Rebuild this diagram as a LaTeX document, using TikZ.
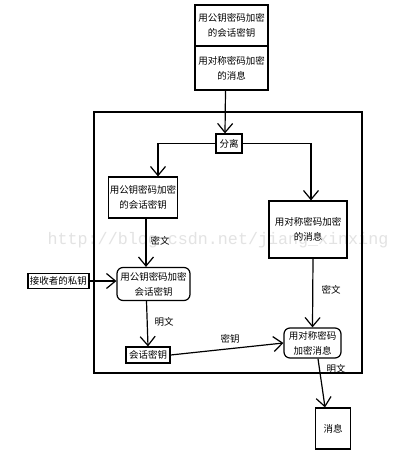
\documentclass[tikz,border=0pt]{standalone}
\usepackage{fontspec}
\newfontfamily\cjk{Noto Sans CJK SC}
\newfontfamily\wmfont{Liberation Mono}
\usetikzlibrary{arrows.meta}
\begin{document}
\begin{tikzpicture}[x=1pt,y=-1pt,
  box/.style={draw, line width=1.2pt, inner sep=0pt, align=center, font=\cjk\fontsize{9.5}{15}\selectfont},
  rbox/.style={box, rounded corners=6pt},
  conn/.style={line width=1.2pt, -{Straight Barb[length=9pt,width=15pt,line width=1.2pt]}},
  plain/.style={line width=1.2pt},
  lbl/.style={font=\cjk\fontsize{9.5}{12}\selectfont, inner sep=0pt}]
\useasboundingbox[fill=white] (0,0) rectangle (417,456);
% watermark
\node[font=\wmfont\fontsize{16.7}{18}\selectfont, text=gray!22, inner sep=0pt] (wm) at (218,240) {http://blog.csdn.net/jiang\_xinxing};
% outer frame
\draw[plain] (94,112) rectangle (362,373);
% top box
\node[box, minimum width=73pt, minimum height=41pt] (top1) at (231.5,25.5) {用公钥密码加密\\的会话密钥};
\node[box, minimum width=73pt, minimum height=44pt] (top2) at (231.5,68) {用对称密码加密\\的消息};
% separate
\node[box, minimum width=26pt, minimum height=19pt] (sep) at (229,143.5) {分离};
% left branch
\node[box, minimum width=69pt, minimum height=41pt] (k1) at (143,197.5) {用公钥密码加密\\的会话密钥};
\node[box, minimum width=78pt, minimum height=57pt] (m1) at (308,229.5) {用对称密码加密\\的消息};
\node[rbox, minimum width=73pt, minimum height=33pt] (r1) at (153.5,284) {用公钥密码加密\\会话密钥};
\node[box, minimum width=61pt, minimum height=15pt] (pk) at (58.5,281) {接收者的私钥};
\node[box, minimum width=44pt, minimum height=16pt] (sk) at (148,355) {会话密钥};
\node[rbox, minimum width=57pt, minimum height=30pt] (r2) at (312.5,343) {用对称密码\\加密消息};
\node[box, minimum width=35pt, minimum height=41pt] (msg) at (333,428.5) {消息};
% connectors
\draw[conn] ([xshift=-6pt]top2.south) -- ([xshift=-4pt]sep.north);
\draw[conn] (sep.west) -| ([xshift=15pt]k1.north);
\draw[conn] (sep.east) -| ([xshift=3pt]m1.north);
\draw[conn] ([xshift=3pt]k1.south) -- ([xshift=-7.5pt]r1.north);
\draw[conn] (pk.east) -- (pk.east -| r1.west);
\draw[conn] ([xshift=-7pt]r1.south) -- (sk.north);
\draw[conn] (sk.east) -- (r2.west);
\draw[conn] ([xshift=5pt]m1.south) -- (r2.north);
\draw[conn] ([xshift=5.5pt]r2.south) -- ([xshift=-8pt]msg.north);
% labels
\node[lbl] (l1) at (160,241) {密文};
\node[lbl] (l2) at (164,322) {明文};
\node[lbl] (l3) at (230,339) {密钥};
\node[lbl] (l4) at (331,290) {密文};
\node[lbl] (l5) at (336,369) {明文};
\end{tikzpicture}
\end{document}
